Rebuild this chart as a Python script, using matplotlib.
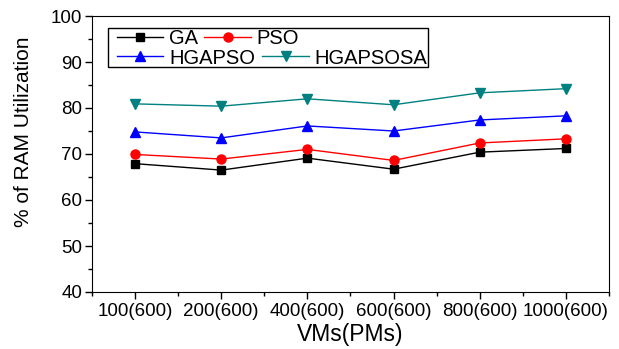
import matplotlib
matplotlib.use("Agg")
import matplotlib.pyplot as plt
from matplotlib.patches import Rectangle
from matplotlib.ticker import MultipleLocator, FixedLocator

categories = ["100(600)", "200(600)", "400(600)", "600(600)", "800(600)", "1000(600)"]
ga = [67.9, 66.5, 69.1, 66.7, 70.4, 71.2]
pso = [69.9, 68.9, 71.0, 68.6, 72.4, 73.3]
hgapso = [74.8, 73.5, 76.1, 75.0, 77.4, 78.3]
hgapsosa = [80.9, 80.4, 82.0, 80.7, 83.3, 84.2]

plt.rcParams["font.family"] = ["Liberation Sans", "DejaVu Sans"]

W, H = 619, 349
fig = plt.figure(figsize=(W / 100, H / 100), dpi=100)
ax = fig.add_axes([92 / W, 57 / H, 517 / W, 276 / H])

x = list(range(len(categories)))
l_ga, = ax.plot(x, ga, color="black", marker="s", ms=5.5, lw=1, label="GA")
l_pso, = ax.plot(x, pso, color="red", marker="o", ms=6.5, lw=1, label="PSO")
l_hg, = ax.plot(x, hgapso, color="blue", marker="^", ms=7, lw=1, label="HGAPSO")
l_hgs, = ax.plot(x, hgapsosa, color="#008080", marker="v", ms=7, lw=1, label="HGAPSOSA")

ax.set_xlim(-0.5, 5.5)
ax.set_ylim(40, 100)
ax.set_xticks(x)
ax.set_xticklabels(categories, fontsize=13.5)
ax.xaxis.set_minor_locator(FixedLocator([i + 0.5 for i in range(-1, 6)]))
ax.yaxis.set_major_locator(MultipleLocator(10))
ax.yaxis.set_minor_locator(MultipleLocator(5))
ax.tick_params(axis="y", labelsize=13.5, pad=2)
ax.tick_params(axis="x", pad=3)
ax.tick_params(which="both", direction="out", top=False, right=False)
ax.tick_params(which="major", length=5, width=1)
ax.tick_params(which="minor", length=3, width=1)

ax.set_xlabel("VMs(PMs)", fontsize=16.5, labelpad=2)
ax.set_ylabel("% of RAM Utilization", fontsize=15)
ax.yaxis.set_label_coords(-0.114, 0.58)

# two-row legend, each row laid out independently, inside one shared frame
common = dict(ncol=2, fontsize=14.5, frameon=False, borderpad=0, borderaxespad=0,
              handlelength=2.3, handletextpad=0.3, loc="center left",
              bbox_transform=fig.transFigure)
leg1 = fig.legend([l_ga, l_pso], ["GA", "PSO"], columnspacing=0.3,
                  bbox_to_anchor=(117 / W, 1 - 39 / H), **common)
leg2 = fig.legend([l_hg, l_hgs], ["HGAPSO", "HGAPSOSA"], columnspacing=0.35,
                  bbox_to_anchor=(117 / W, 1 - 58 / H), **common)
frame = Rectangle((108 / W, 1 - 67 / H), 320 / W, 39 / H, transform=fig.transFigure,
                  facecolor="white", edgecolor="black", linewidth=1, zorder=4)
fig.add_artist(frame)
leg1.set_zorder(5)
leg2.set_zorder(5)

fig.savefig("out.png", dpi=100)
